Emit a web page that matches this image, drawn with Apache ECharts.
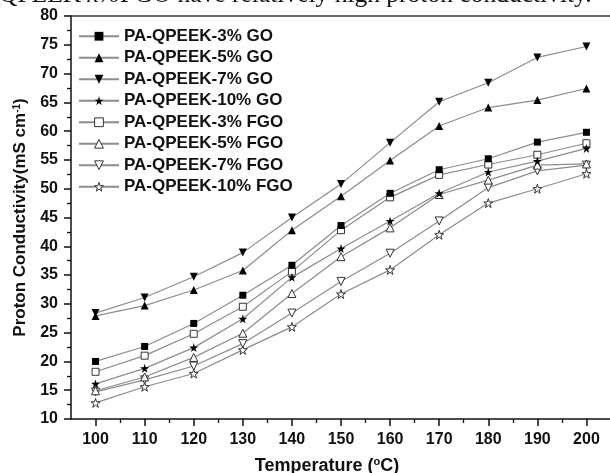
<!DOCTYPE html>
<html>
<head>
<meta charset="utf-8">
<script src="https://cdn.jsdelivr.net/npm/echarts@6/dist/echarts.min.js"></script>
<style>
    html, body { margin: 0; padding: 0; background: #fff; }
    #chart { width: 610px; height: 473px; }
</style>
</head>
<body>
<div id="chart"></div>
<script>
'use strict'

// temperature (°C)
const temps = [100, 110, 120, 130, 140, 150, 160, 170, 180, 190, 200]

// proton conductivity (mS cm-1)
const go3 = [20.0, 22.6, 26.6, 31.5, 36.7, 43.6, 49.2, 53.3, 55.2, 58.1, 59.8]
const go5 = [27.9, 29.7, 32.4, 35.8, 42.8, 48.7, 54.9, 60.9, 64.1, 65.4, 67.4]
const go7 = [28.4, 31.1, 34.7, 38.9, 45.0, 50.8, 58.0, 65.1, 68.4, 72.8, 74.7]
const go10 = [16.1, 18.8, 22.4, 27.4, 34.6, 39.6, 44.4, 49.2, 52.9, 54.8, 57.0]
const fgo3 = [18.2, 21.0, 24.8, 29.5, 35.6, 42.8, 48.5, 52.4, 54.2, 55.9, 57.9]
const fgo5 = [14.9, 17.3, 20.7, 24.9, 31.8, 38.2, 43.2, 49.0, 51.5, 54.1, 54.3]
const fgo7 = [14.7, 16.8, 19.2, 23.1, 28.4, 33.9, 38.8, 44.4, 50.2, 53.1, 54.1]
const fgo10 = [12.8, 15.6, 17.9, 22.0, 26.0, 31.7, 35.9, 42.0, 47.5, 50.0, 52.6]

const names = ['PA-QPEEK-3% GO', 'PA-QPEEK-5% GO', 'PA-QPEEK-7% GO', 'PA-QPEEK-10% GO',
    'PA-QPEEK-3% FGO', 'PA-QPEEK-5% FGO', 'PA-QPEEK-7% FGO', 'PA-QPEEK-10% FGO']
const values = [go3, go5, go7, go10, fgo3, fgo5, fgo7, fgo10]

const minorTemps = temps.slice(1).map(t => t - 5)

const triDown = 'path://M0,0 L10,0 L5,9 Z'
const star = 'path://M50,0 L61.2,34.5 L97.6,34.5 L68.2,55.9 L79.4,90.5 L50,69.1 L20.6,90.5 L31.8,55.9 L2.4,34.5 L38.8,34.5 Z'
const symbols = ['rect', 'triangle', triDown, star, 'rect', 'triangle', triDown, star]
const sizes = [7, 8, 8, 9, 7, 8, 8, 9]

const font = 'Liberation Sans'
const ink = '#111'

function markStyle(k) {
    return k >= 4
        ? { color: '#fff', borderColor: '#333', borderWidth: 1 }
        : { color: '#000', borderColor: '#000', borderWidth: 0 }
}

let option = {
    animation: false,
    backgroundColor: '#fff',
    graphic: [{
        type: 'text',
        x: -1,
        y: 8,
        style: {
            text: '{n|QPEEK }{i|x%}{n|FGO have relatively high proton conductivity.}',
            verticalAlign: 'bottom',
            fill: '#111',
            rich: {
                n: { fontFamily: 'Liberation Serif', fontSize: 25.5, color: '#111' },
                i: { fontFamily: 'Liberation Serif', fontSize: 25.5, fontStyle: 'italic', color: '#111' }
            }
        }
    }],
    grid: {
        left: 71,
        right: -1,
        top: 16,
        bottom: 54,
        outerBoundsMode: 'none'
    },
    legend: {
        orient: 'vertical',
        left: 78,
        top: 25.5,
        padding: 0,
        itemGap: 0,
        itemWidth: 40,
        itemHeight: 11,
        selectedMode: false,
        data: names.map((name, k) => ({
            name: name,
            itemStyle: markStyle(k)
        })),
        textStyle: {
            fontFamily: font,
            fontSize: 17,
            fontWeight: 'bold',
            color: ink,
            lineHeight: 21.5
        }
    },
    xAxis: [{
        type: 'value',
        position: 'bottom',
        min: 95,
        max: 205,
        name: 'Temperature ({sup|o}C)',
        nameLocation: 'middle',
        nameGap: 37,
        nameTextStyle: {
            fontFamily: font,
            fontSize: 18,
            fontWeight: 'bold',
            color: ink,
            padding: [0, 28, 0, 0],
            rich: {
                sup: { fontFamily: font, fontSize: 11, fontWeight: 'bold', color: ink, verticalAlign: 'top', padding: [0, 0, 9, 0] }
            }
        },
        axisLine: { show: true, lineStyle: { color: ink, width: 1.5 } },
        axisTick: { show: true, customValues: temps, length: 7, lineStyle: { color: ink, width: 1.5 } },
        axisLabel: {
            customValues: temps,
            margin: 13,
            fontFamily: font,
            fontSize: 16,
            fontWeight: 'bold',
            color: ink
        },
        splitLine: { show: false }
    }, {
        type: 'value',
        position: 'bottom',
        offset: 0,
        min: 95,
        max: 205,
        axisLine: { show: false },
        axisTick: { show: true, customValues: minorTemps, length: 4, lineStyle: { color: ink, width: 1.3 } },
        axisLabel: { show: false },
        splitLine: { show: false }
    }, {
        type: 'value',
        position: 'top',
        min: 95,
        max: 205,
        axisLine: { show: true, lineStyle: { color: '#333', width: 1.5 } },
        axisTick: { show: false },
        axisLabel: { show: false },
        splitLine: { show: false }
    }],
    yAxis: {
        type: 'value',
        min: 10,
        max: 80,
        interval: 5,
        name: 'Proton Conductivity(mS cm{sup|-1})',
        nameLocation: 'middle',
        nameGap: 35,
        nameTextStyle: {
            fontFamily: font,
            fontSize: 17,
            fontWeight: 'bold',
            color: ink,
            rich: {
                sup: { fontFamily: font, fontSize: 10, fontWeight: 'bold', color: ink, verticalAlign: 'top', padding: [0, 0, 8, 0] }
            }
        },
        axisLine: { show: true, lineStyle: { color: ink, width: 1.5 } },
        axisTick: { show: true, length: 7, lineStyle: { color: ink, width: 1.5 } },
        minorTick: { show: true, splitNumber: 2, length: 4, lineStyle: { color: ink, width: 1.3 } },
        axisLabel: {
            margin: 13,
            fontFamily: font,
            fontSize: 16,
            fontWeight: 'bold',
            color: ink
        },
        splitLine: { show: false }
    },
    series: names.map((name, k) => {
        return {
            name: name,
            type: 'line',
            xAxisIndex: 0,
            data: temps.map((t, i) => [t, values[k][i]]),
            symbol: symbols[k],
            symbolSize: sizes[k],
            showSymbol: true,
            lineStyle: { color: '#8c8c8c', width: 1.2 },
            itemStyle: markStyle(k),
            z: 10 - k
        }
    })
}

let myChart = echarts.init(document.getElementById('chart'), null, { renderer: 'canvas' })
myChart.setOption(option)
</script>
</body>
</html>
